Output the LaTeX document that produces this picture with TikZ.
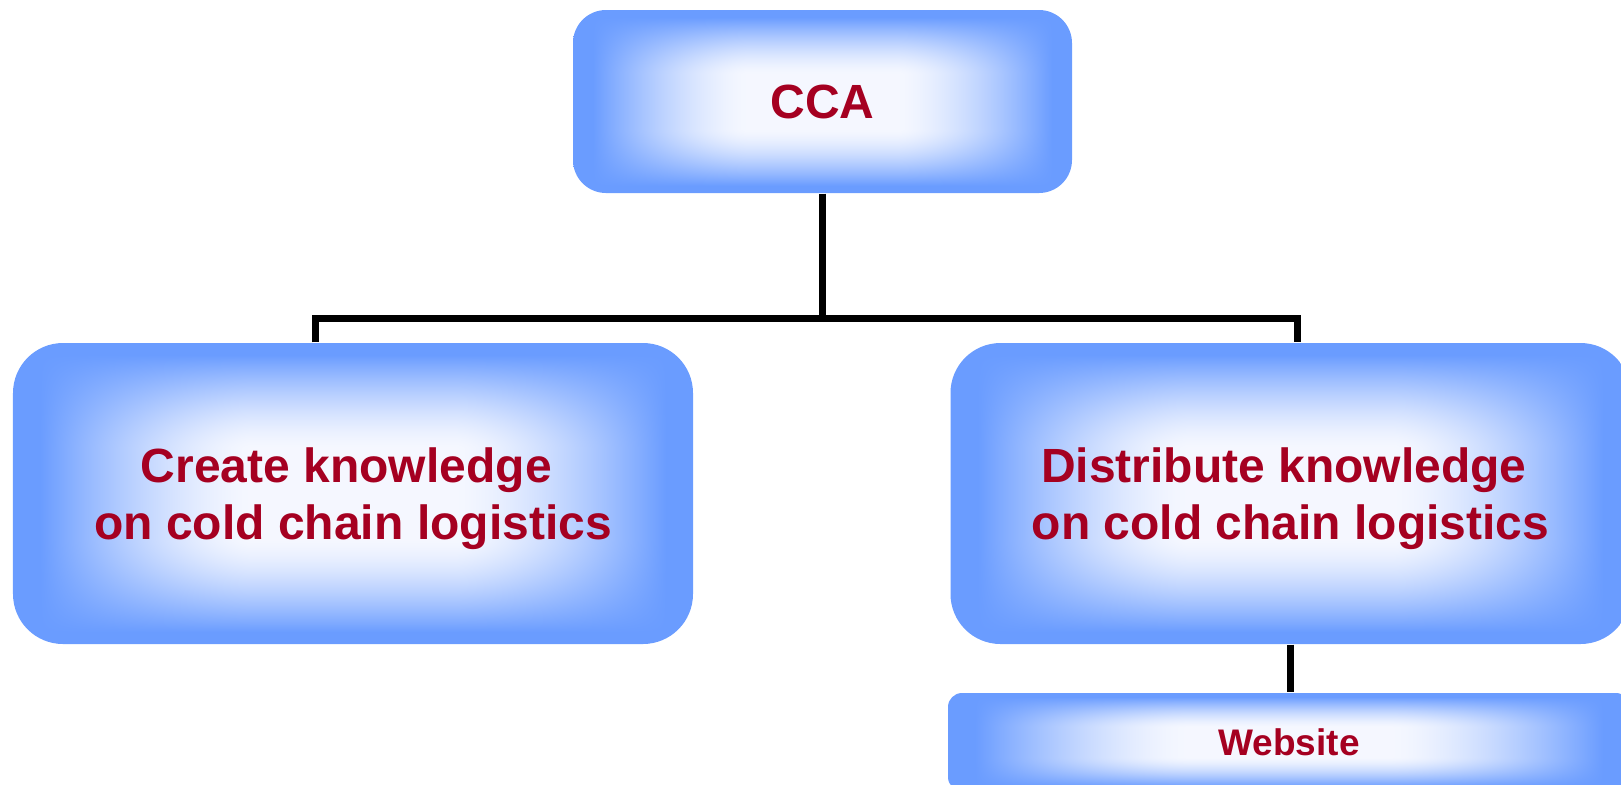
\documentclass[tikz,border=0pt]{standalone}
\usepackage{fontspec}
\newfontfamily\boxfont{Liberation Sans}

\definecolor{boxblue}{HTML}{6A9CFF}
\definecolor{labelred}{HTML}{A50021}

% soft rectangular glow: white centre, blue rim
\pgfdeclarefunctionalshading{boxglow}{\pgfpoint{-50bp}{-50bp}}{\pgfpoint{50bp}{50bp}}{}{
  abs 25 div 0.3 sub 0.62 div
  dup 0 lt {pop 0} if dup 1 gt {pop 1} if 1.5 exp
  exch abs 25 div 0.3 sub 0.62 div
  dup 0 lt {pop 0} if dup 1 gt {pop 1} if 1.5 exp
  2 copy mul 3 1 roll add exch sub
  dup 0.544 mul 0.96 exch sub exch
  dup 0.358 mul 0.97 exch sub exch
  pop 1
}

\begin{document}
\begin{tikzpicture}[
    glowbox/.style={rectangle, shading=boxglow, inner sep=0pt, align=center,
                    text=labelred, font=\boxfont\bfseries\fontsize{13.66pt}{16.1pt}\selectfont},
    topbox/.style={glowbox, minimum width=4.99cm, minimum height=1.83cm,
                   rounded corners=0.33cm},
    taskbox/.style={glowbox, minimum width=6.8cm, minimum height=3.01cm,
                    rounded corners=0.5cm, text depth=0pt},
    toolbox/.style={glowbox, minimum width=6.82cm, minimum height=0.98cm,
                    rounded corners=0.14cm,
                    font=\boxfont\bfseries\fontsize{10.53pt}{12.4pt}\selectfont},
    conn/.style={line width=1.9pt, black},
]
\useasboundingbox (0,0) rectangle (16.21,-7.84);
\clip (0,0) rectangle (16.21,-7.84);

% --- Top node ---
\node[topbox] (cca) at (8.225, -1.015) {CCA};

% --- Task nodes ---
\node[taskbox] (create) at (3.53, -4.935)
    {Create knowledge\hphantom{\ }\\on cold chain logistics};
\node[taskbox] (distribute) at (12.905, -4.935)
    {Distribute knowledge\hphantom{\ }\\on cold chain logistics};

% --- Tool node ---
\node[toolbox] (website) at (12.89, -7.42) {Website};

% --- Connections ---
\draw[conn] (cca.south) -- ++(0,-1.25) coordinate (hub);
\draw[conn] ([xshift=-0.375cm]create.north) |- (hub)
            -| ([xshift=0.07cm]distribute.north);
\draw[conn] (distribute.south) -- (distribute.south |- website.north);

\end{tikzpicture}
\end{document}
